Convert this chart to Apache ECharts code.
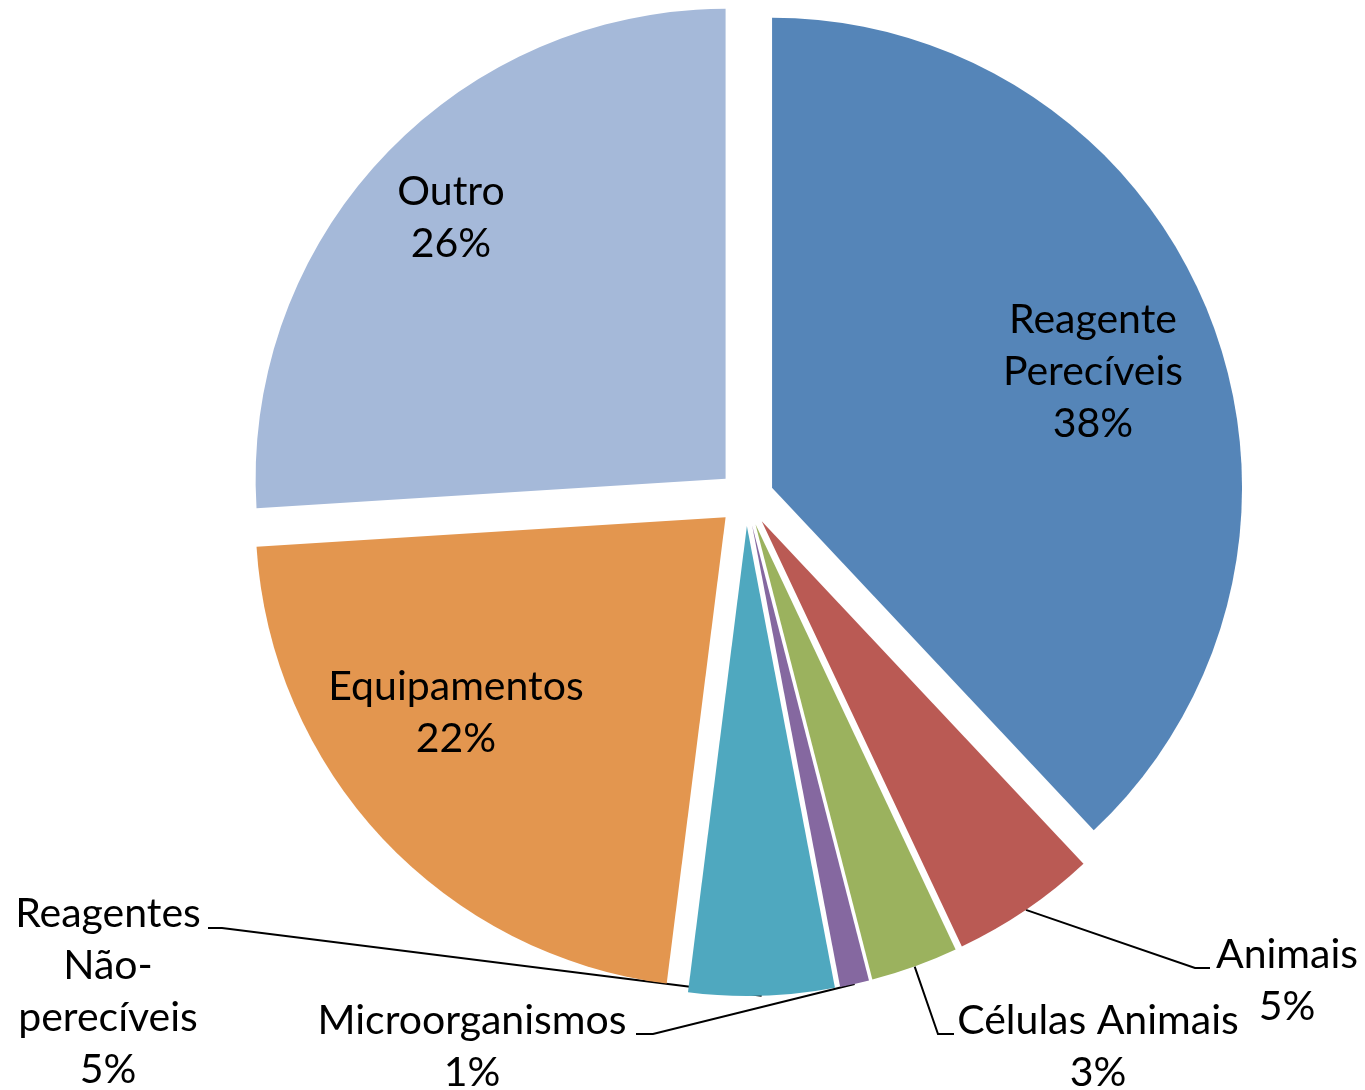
<!DOCTYPE html>
<html>
<head>
<meta charset="utf-8">
<script src="https://cdn.jsdelivr.net/npm/echarts@6/dist/echarts.min.js"></script>
<style>
  html, body { margin: 0; padding: 0; background: #fff; }
  #chart { width: 1365px; height: 1090px; }
</style>
</head>
<body>
<div id="chart"></div>
<script>
// slices, clockwise from 12 o'clock
const categories = ['Reagente Perecíveis', 'Animais', 'Células Animais', 'Microorganismos',
    'Reagentes Não-perecíveis', 'Equipamentos', 'Outro'];
const labelNames = ['Reagente\nPerecíveis', 'Animais', 'Células Animais', 'Microorganismos',
    'Reagentes\nNão-\nperecíveis', 'Equipamentos', 'Outro'];
const values = [38, 5, 3, 1, 5, 22, 26];
const colors = ['#5585B8', '#BA5A54', '#9BB25E', '#8568A0', '#4FA8BF', '#E3964F', '#A5B9D9'];

// where Excel put each label (centre of text block) and the bends of its leader line
const labelPos = [
    { x: 1093, y: 372 },
    { x: 1287, y: 981, line: [[1195, 968], [1210, 968]] },
    { x: 1098, y: 1047, line: [[938, 1034], [954, 1034]] },
    { x: 472, y: 1047, line: [[653, 1034], [636, 1034]] },
    { x: 108, y: 992, line: [[222, 928], [208, 928]] },
    { x: 456, y: 713 },
    { x: 451, y: 218 }
];

const pieCenter = [746, 498];
const pieRadius = 470;
const explode = 28;

const myChart = echarts.init(document.getElementById('chart'), null, { renderer: 'canvas' });

const total = values.reduce(function (a, b) { return a + b; }, 0);
let cum = 0;

// every slice is exploded, so each one gets its own pie shifted along its bisector;
// the other slices in that pie are left transparent
const series = values.map(function (v, i) {
    const mid = (cum + v / 2) / total * Math.PI * 2;
    cum += v;
    const cx = pieCenter[0] + explode * Math.sin(mid);
    const cy = pieCenter[1] - explode * Math.cos(mid);
    return {
        type: 'pie',
        center: [cx, cy],
        radius: pieRadius,
        startAngle: 90,
        clockwise: true,
        percentPrecision: 0,
        avoidLabelOverlap: false,
        silent: true,
        emphasis: { disabled: true },
        itemStyle: { borderWidth: 0 },
        label: {
            position: 'outside',
            fontFamily: 'Lato',
            fontSize: 41,
            lineHeight: 52,
            color: '#000',
            formatter: function (p) {
                return labelNames[p.dataIndex] + '\n' + p.percent + '%';
            }
        },
        labelLine: {
            length: 20,
            length2: 20,
            lineStyle: { color: '#000', width: 2 }
        },
        labelLayout: function (params) {
            const p = labelPos[params.dataIndex];
            const out = { x: p.x, y: p.y, align: 'center', verticalAlign: 'middle' };
            if (p.line && params.labelLinePoints) {
                out.labelLinePoints = [params.labelLinePoints[0], p.line[0], p.line[1]];
            }
            return out;
        },
        data: categories.map(function (name, j) {
            return {
                name: name,
                value: values[j],
                itemStyle: { color: j === i ? colors[j] : 'rgba(0,0,0,0)' },
                label: { show: j === i },
                labelLine: { show: j === i && !!labelPos[j].line }
            };
        })
    };
});

myChart.setOption({
    animation: false,
    backgroundColor: '#fff',
    series: series
});
</script>
</body>
</html>
